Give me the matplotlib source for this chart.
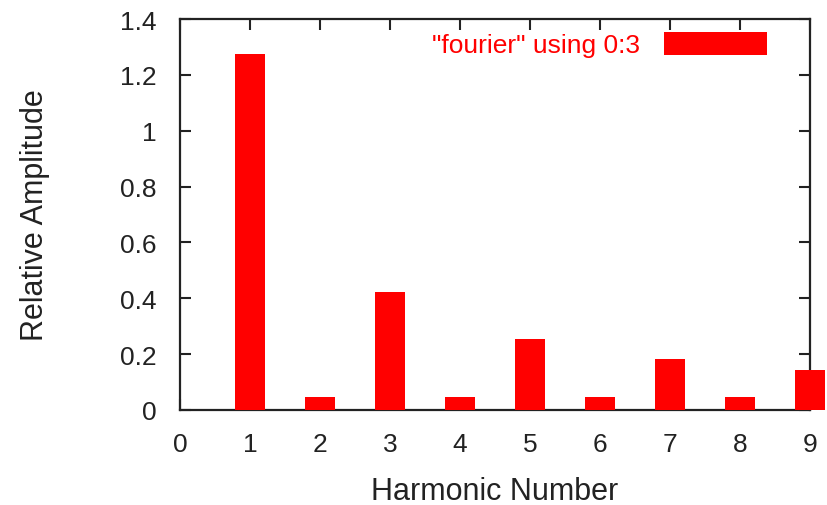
import numpy as np
import matplotlib
matplotlib.use("Agg")
import matplotlib.pyplot as plt

plt.rcParams['font.family'] = ['Liberation Sans', 'DejaVu Sans']

harmonic = np.array([1, 2, 3, 4, 5, 6, 7, 8, 9])
amplitude = np.array([1.275, 0.047, 0.424, 0.047, 0.254, 0.047, 0.182, 0.047, 0.143])
x_ticks = [0, 1, 2, 3, 4, 5, 6, 7, 8, 9]
y_ticks = [0, 0.2, 0.4, 0.6, 0.8, 1.0, 1.2, 1.4]
y_labels = ['0', '0.2', '0.4', '0.6', '0.8', '1', '1.2', '1.4']

fig = plt.figure(figsize=(8.27, 5.06), dpi=100)
ax = fig.add_axes([180/827, 1 - 411/506, 630/827, 391/506])

ax.bar(harmonic, amplitude, width=0.43, color='#ff0000', zorder=3, clip_on=False,
       label='"fourier" using 0:3')

ax.set_xlim(0, 9)
ax.set_ylim(0, 1.4)
ax.set_xticks(x_ticks)
ax.set_yticks(y_ticks)
ax.set_yticklabels(y_labels)
ax.tick_params(direction='in', length=8, width=1.5, top=True, right=True,
               labelsize=19, colors='#222222')
ax.tick_params(axis='y', pad=17)
ax.tick_params(axis='x', pad=16)
for s in ax.spines.values():
    s.set_linewidth(1.6)
    s.set_color('#222222')

ax.set_xlabel("Harmonic Number", fontsize=22, color='#222222', labelpad=14)
ax.set_ylabel("Relative Amplitude", fontsize=22, color='#222222', labelpad=50)

leg = ax.legend(loc='upper right', bbox_to_anchor=(767/827, 1 - 33/506),
                bbox_transform=fig.transFigure, borderpad=0, borderaxespad=0,
                frameon=False, markerfirst=False, handlelength=3.9, handleheight=0.95,
                handletextpad=0.9, fontsize=19)
for t in leg.get_texts():
    t.set_color('#ff0000')

fig.savefig('out.png', dpi=100)
